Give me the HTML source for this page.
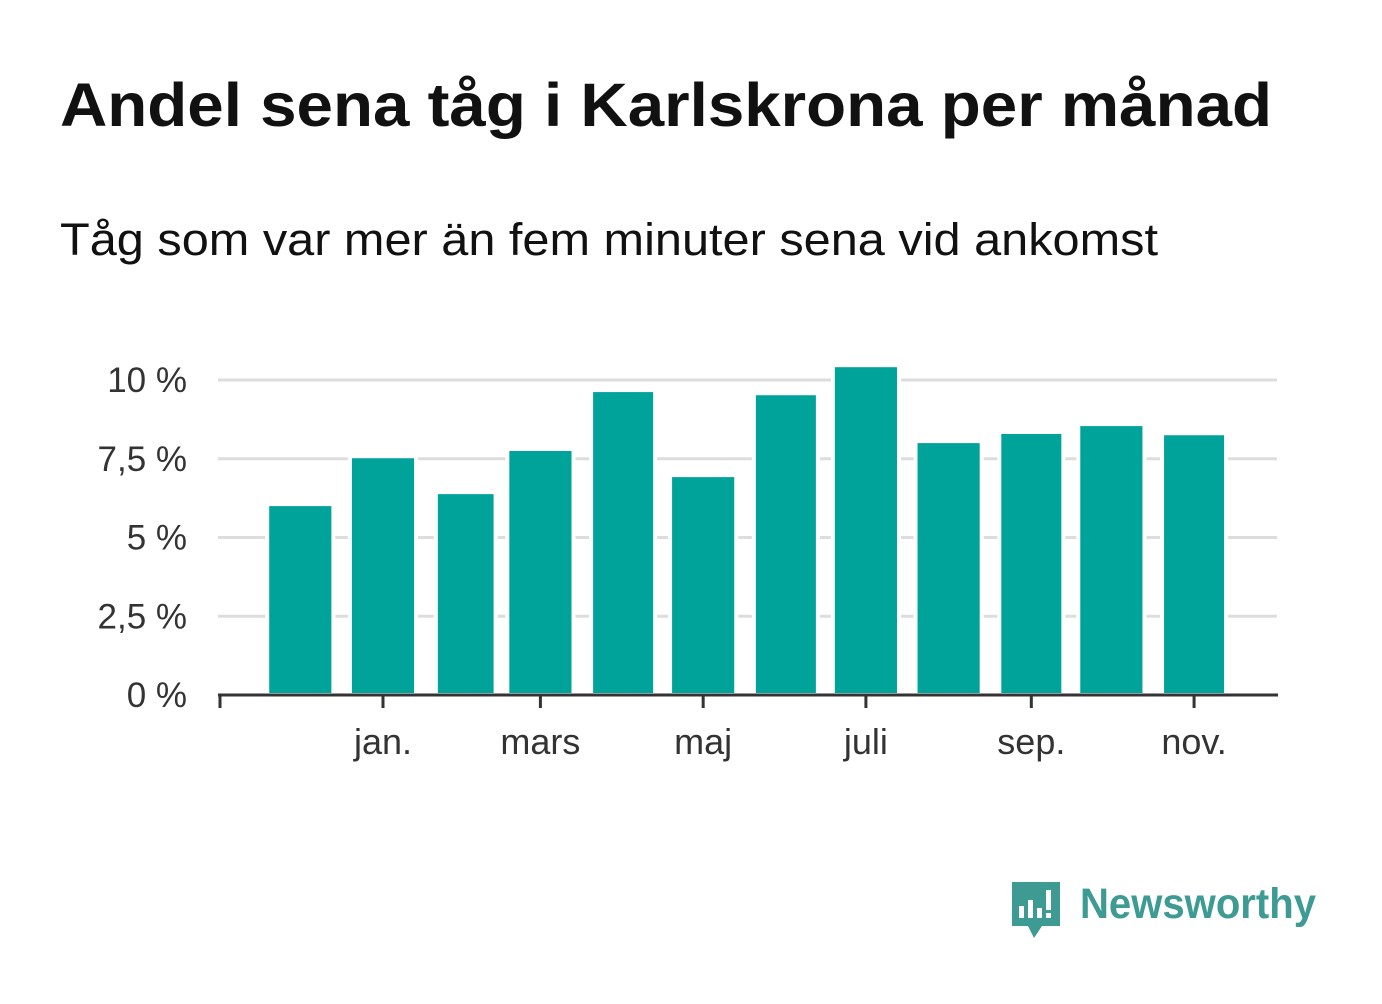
<!DOCTYPE html>
<html><head><meta charset="utf-8"><style>
body{margin:0;background:#fff;width:1382px;height:999px;overflow:hidden;font-family:"Liberation Sans",sans-serif}
</style></head><body>
<svg width="1382" height="999">
<text x="60" y="126" font-size="61" font-weight="bold" fill="#111" textLength="1212" lengthAdjust="spacingAndGlyphs">Andel sena tåg i Karlskrona per månad</text>
<text x="60" y="255" font-size="45" fill="#111" textLength="1098" lengthAdjust="spacingAndGlyphs">Tåg som var mer än fem minuter sena vid ankomst</text>
<g id="grid"></g><g id="bars"></g><g id="axis"></g>
<g>
<path d="M1012 882 h48 v44 h-18 l-8 12 l-6 -12 h-16 z" fill="#3d9b93"/>
<rect x="1019" y="906" width="5" height="12" fill="#fff"/><rect x="1028" y="900" width="5" height="18" fill="#fff"/><rect x="1037" y="908" width="5" height="10" fill="#fff"/><rect x="1046" y="890" width="5" height="20" fill="#fff"/><rect x="1046" y="913" width="5" height="5" fill="#fff"/>
<text x="1080" y="918" font-size="43" font-weight="bold" fill="#3d9b93" textLength="236" lengthAdjust="spacingAndGlyphs">Newsworthy</text>
</g>
</svg>
<script>
const months=['dec','jan','feb','mar','apr','maj','jun','jul','aug','sep','okt','nov'];
const values=[6.06,7.58,6.44,7.81,9.68,6.98,9.58,10.47,8.06,8.35,8.6,8.31];
const days=[31,31,28,31,30,31,30,31,31,30,31,30];
const yTicks=[0,2.5,5,7.5,10];
const yTickLabels=['0 %','2,5 %','5 %','7,5 %','10 %'];
const xTickLabels=['jan.','mars','maj','juli','sep.','nov.'];
const xTickMonthIdx=[1,3,5,7,9,11];
const NS='http://www.w3.org/2000/svg';
const pxDay=2.668, x0=383;
const y=v=>695-v*31.5;
const starts=[];let d=-31;for(let i=0;i<12;i++){starts.push(d);d+=days[i];}
const x=dd=>x0+dd*pxDay;
function mk(t,a,p){const e=document.createElementNS(NS,t);for(const k in a)e.setAttribute(k,a[k]);p.appendChild(e);return e;}
const grid=document.getElementById('grid'),bars=document.getElementById('bars'),axis=document.getElementById('axis');
yTicks.forEach((v,i)=>{
 if(v>0){const l=mk('line',{x1:218,x2:1277,y1:y(v),y2:y(v),stroke:'#ddd','stroke-width':3},grid);
 
 }
 const t=mk('text',{x:187,y:y(v)+12,'font-size':35,fill:'#333','text-anchor':'end'},grid);
 t.textContent=yTickLabels[i];
 
 
});
values.forEach((v,i)=>{
 const w=days[i]*pxDay*0.8,cx=x(starts[i]);
 const r=mk('rect',{x:cx-w/2,y:y(v),width:w,height:695-y(v),fill:'#00a39a',stroke:'#fff','stroke-width':4},bars);
 
 
});
mk('line',{x1:218,x2:1278,y1:695,y2:695,stroke:'#333','stroke-width':3},axis);
mk('line',{x1:220,x2:220,y1:695,y2:708,stroke:'#333','stroke-width':3},axis);
xTickMonthIdx.forEach((m,i)=>{
 const px=x(starts[m]);
 mk('line',{x1:px,x2:px,y1:695,y2:708,stroke:'#333','stroke-width':3},axis);
 const t=mk('text',{x:px,y:754,'font-size':36,fill:'#333','text-anchor':'middle'},axis);
 t.textContent=xTickLabels[i];
 
 
});
</script>
</body></html>
